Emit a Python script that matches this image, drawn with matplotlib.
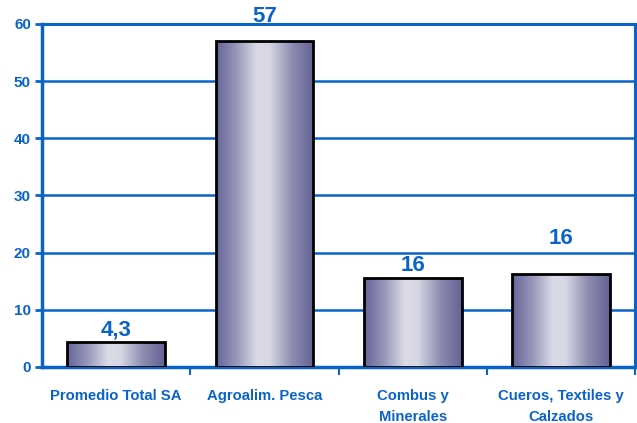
import matplotlib
matplotlib.use("Agg")
import matplotlib.pyplot as plt
import numpy as np
from matplotlib.colors import LinearSegmentedColormap
from matplotlib.ticker import FixedLocator

categories = ["Promedio Total SA", "Agroalim. Pesca", "Combus y\nMinerales", "Cueros, Textiles y\nCalzados"]
values = [4.3, 57, 15.6, 16.3]
value_labels = ["4,3", "57", "16", "16"]
yticks = [0, 10, 20, 30, 40, 50, 60]

# vertical gap (in data units) between bar top and its value label
label_gaps = [1.2, 3.3, 1.2, 5.2]

BLUE = "#0a64c8"
plt.rcParams['font.family'] = ['Liberation Sans', 'DejaVu Sans']

fig = plt.figure(figsize=(6.37, 4.23), dpi=100)
ax = fig.add_axes([0.066, 0.1324, 0.931, 0.811])

x = np.arange(len(categories))
width = 0.66
bars = ax.bar(x, values, width=width, facecolor="none", edgecolor="black", linewidth=2.0, zorder=4)

cmap = LinearSegmentedColormap.from_list("g", [
    (0.0, "#66659a"), (0.2, "#9594b8"), (0.42, "#dcdce8"), (0.55, "#d6d6e4"),
    (0.78, "#8d8cb0"), (1.0, "#636295")])
grad = np.linspace(0, 1, 256).reshape(1, -1)
for b in bars:
    x0, y0 = b.get_x(), b.get_y()
    w, h = b.get_width(), b.get_height()
    im = ax.imshow(grad, cmap=cmap, aspect="auto", extent=[x0, x0 + w, y0, y0 + h], zorder=3)
    im.set_clip_path(b)

for xi, v, lab, g in zip(x, values, value_labels, label_gaps):
    ax.text(xi, v + g, lab, ha="center", va="baseline", color=BLUE, fontsize=16,
            fontweight="bold", zorder=5, clip_on=False)

ax.set_xlim(-0.5, len(categories) - 0.5)
ax.set_ylim(0, 60)
ax.set_yticks(yticks)
ax.set_xticks(x)
ax.set_xticklabels(categories, linespacing=1.6, va="top")
ax.xaxis.set_minor_locator(FixedLocator(np.arange(0.5, len(categories), 1.0)))

ax.grid(axis="y", color=BLUE, linewidth=1.8, zorder=1)
ax.set_axisbelow(True)
for s in ax.spines.values():
    s.set_color(BLUE)
    s.set_linewidth(2.2)
ax.spines["left"].set_linewidth(2.5)
ax.spines["bottom"].set_linewidth(2.5)

ax.tick_params(axis="y", colors=BLUE, labelsize=11, length=5, width=2, pad=3, direction="out")
ax.tick_params(axis="x", which="major", length=0, pad=16, labelsize=10.7, colors=BLUE)
ax.tick_params(axis="x", which="minor", length=6, width=1.5, color=BLUE, direction="out")
for t in ax.get_yticklabels() + ax.get_xticklabels():
    t.set_fontweight("bold")
    t.set_color(BLUE)

fig.savefig("out.png", dpi=100)
